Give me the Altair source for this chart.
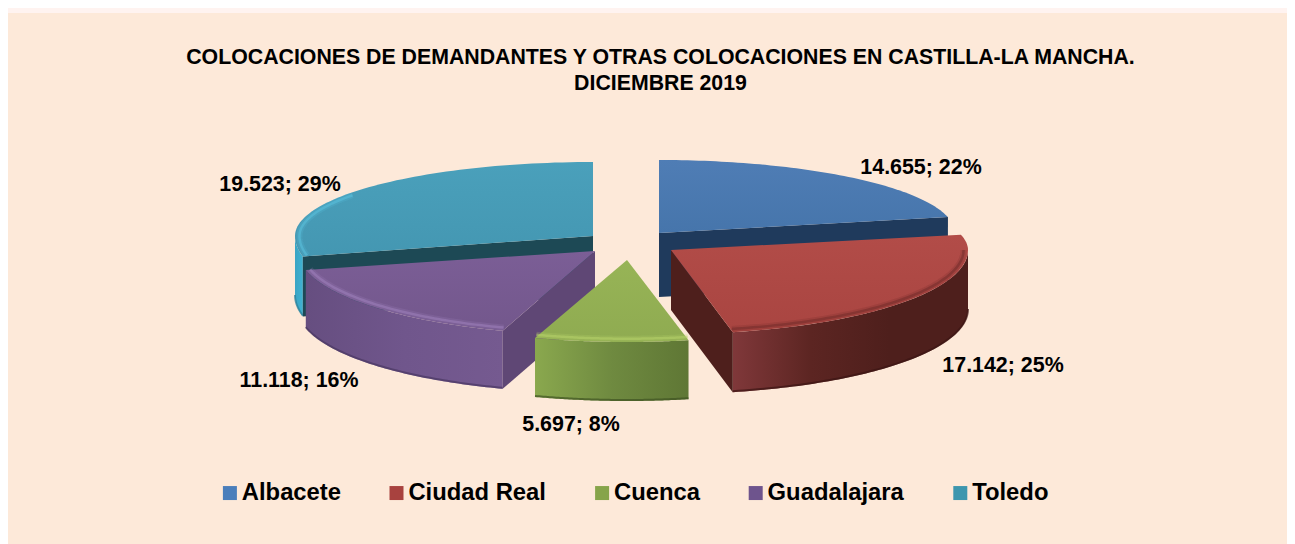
import math
import altair as alt
import pandas as pd

CATEGORIES = ["Albacete", "Ciudad Real", "Cuenca", "Guadalajara", "Toledo"]
VALUES = [14655, 17142, 5697, 11118, 19523]
TITLE_LINES = ["COLOCACIONES DE DEMANDANTES Y OTRAS COLOCACIONES EN CASTILLA-LA MANCHA.",
               "DICIEMBRE 2019"]
LEGEND_COLORS = ["#4a7ebb", "#a8423f", "#86a44a", "#6e548d", "#3d96ae"]

# Geometry of the tilted, exploded pie (page pixels)
CX = [659, 671, 627, 595, 593]
CY = [233, 250, 260, 251, 236]
RX = [296, 297, 296, 297, 298]
R_BACK = [73, 70, 74, 74, 74]
R_FRONT = [80, 84, 82, 84, 90]
DEPTH = [64, 60, 59, 58, 60]
LABEL_X = [921, 1003, 571, 299, 280]
LABEL_Y = [168, 366, 425, 381, 185]
FONT = "Liberation Sans"
X_DOMAIN = [8, 1287]
Y_DOMAIN = [544, 13]


def grad(colors, horizontal=True):
    n = len(colors) - 1
    stops = [alt.GradientStop(offset=i / n, color=c) for i, c in enumerate(colors)]
    if horizontal:
        return alt.LinearGradient(gradient="linear", stops=stops, x1=0, x2=1, y1=0, y2=0)
    return alt.LinearGradient(gradient="linear", stops=stops, x1=0, x2=0, y1=0, y2=1)


TOP_FILL = [["#4f7db5", "#4675ab"], ["#b24c48", "#a94541"], ["#97b456", "#8fab51"],
            ["#7b5e96", "#73578c"], ["#4aa0bb", "#4497b2"]]
RIM_FILL = [["#1f3a5c", "#1f3a5c"], ["#80383a", "#5c2522", "#4e1f1c", "#4e1f1c"],
            ["#8aa84e", "#6f8a40", "#5f7735"], ["#664e80", "#70568c", "#755a90"],
            ["#3aa4c4", "#3fb2d2"]]
WALL_FILL = ["#1f3a5c", "#4e1f1c", None, "#5f4775", "#1d4955"]
BEVEL = ["#5d8bc2", "#6e2a28", "#b9d56c", "#a183bf", "#5cc4e0"]
BEVEL_RANGE = [None, (90, 168), (168, 198.2), (198.2, 257), (257, 305)]
EDGE_DARK = ["#1f3a5c", "#3c1614", "#3f5222", "#4a3762", "#2b7f99"]

total = sum(VALUES)
starts, acc = [], 0
for v in VALUES:
    starts.append(acc / total * 2 * math.pi)
    acc += v


def point(i, a):
    t = -math.cos(a)
    r = R_BACK[i] if t < 0 else R_FRONT[i]
    return CX[i] + RX[i] * math.sin(a), CY[i] + r * t


def arc(i, lo=None, hi=None):
    a0 = starts[i]
    a1 = a0 + VALUES[i] / total * 2 * math.pi
    if lo is not None:
        a0 = max(a0, math.radians(lo))
    if hi is not None:
        a1 = min(a1, math.radians(hi))
    if a1 <= a0:
        return []
    n = 70
    return [point(i, a0 + (a1 - a0) * k / n) for k in range(n + 1)]


def enc(df_chart):
    return df_chart.encode(
        x=alt.X("x:Q", axis=None, scale=alt.Scale(domain=X_DOMAIN, nice=False, zero=False)),
        y=alt.Y("y:Q", axis=None, scale=alt.Scale(domain=Y_DOMAIN, nice=False, zero=False)),
        order=alt.Order("i:Q"),
    )


def frame(points):
    return pd.DataFrame({"x": [p[0] for p in points], "y": [p[1] for p in points],
                         "i": range(len(points))})


def poly(points, **mark):
    return enc(alt.Chart(frame(points)).mark_line(interpolate="linear-closed", **mark))


def stroke(points, **mark):
    return enc(alt.Chart(frame(points)).mark_line(**mark))


def slice_layers(i, wall_index):
    pts = arc(i)
    d = DEPTH[i]
    out = []
    front = arc(i, 90, 270)
    if front:
        rim = front + [(x, y + d) for x, y in reversed(front)]
        out.append(poly(rim, fill=grad(RIM_FILL[i]), stroke="transparent", strokeWidth=0))
        out.append(stroke([(x, y + d - 1) for x, y in front], stroke=EDGE_DARK[i], strokeWidth=2, opacity=0.7))
    c = (CX[i], CY[i])
    if WALL_FILL[i] is not None:
        edge = pts[wall_index]
        wall = [c, edge, (edge[0], edge[1] + d), (c[0], c[1] + d)]
        out.append(poly(wall, fill=WALL_FILL[i], stroke="transparent", strokeWidth=0))
    out.append(poly([c] + pts, fill=grad(TOP_FILL[i], False), stroke="transparent", strokeWidth=0))
    if BEVEL_RANGE[i]:
        b = arc(i, *BEVEL_RANGE[i])
        b = [(c[0] + (x - c[0]) * 0.985, c[1] + (y - c[1]) * 0.96) for x, y in b]
        out.append(stroke(b, stroke=BEVEL[i], strokeWidth=6, opacity=0.2))
        out.append(stroke(b, stroke=BEVEL[i], strokeWidth=2.5, opacity=0.5))
    return out


layers = []
legend_df = pd.DataFrame({"cat": CATEGORIES, "x": [750] * 5, "y": [200] * 5})
layers.append(alt.Chart(legend_df).mark_square(size=1).encode(
    x=alt.X("x:Q", axis=None, scale=alt.Scale(domain=X_DOMAIN, nice=False, zero=False)),
    y=alt.Y("y:Q", axis=None, scale=alt.Scale(domain=Y_DOMAIN, nice=False, zero=False)),
    color=alt.Color("cat:N", sort=CATEGORIES,
                    scale=alt.Scale(domain=CATEGORIES, range=LEGEND_COLORS),
                    legend=alt.Legend(title=None, orient="none", direction="horizontal",
                                      columns=5, legendX=210, legendY=468,
                                      symbolType="square", symbolSize=196, symbolStrokeWidth=0,
                                      labelFont=FONT, labelFontSize=23.8, labelFontWeight="bold",
                                      labelColor="#000000", labelOffset=0, columnPadding=43.6,
                                      labelLimit=300, symbolOpacity=1)),
))
# back to front; -1 = wall at end of slice, 0 = wall at start of slice
layers += slice_layers(0, -1)
layers += slice_layers(4, 0)
layers += slice_layers(3, 0)
layers += slice_layers(1, -1)
layers += slice_layers(2, 0)

fmt = lambda v: f"{v:,}".replace(",", ".")
labels = pd.DataFrame({
    "x": LABEL_X, "y": LABEL_Y,
    "t": [f"{fmt(v)}; {round(v / total * 100)}%" for v in VALUES],
})
layers.append(alt.Chart(labels).mark_text(font=FONT, fontSize=21.4, fontWeight="bold", color="#000000").encode(
    x=alt.X("x:Q", axis=None), y=alt.Y("y:Q", axis=None), text="t:N"))

chart = alt.layer(*layers).properties(
    width=1279, height=531,
    padding={"left": 0, "top": 5, "right": 0, "bottom": 0},
    autosize=alt.AutoSizeParams(type="none"),
    background="#fff3f0",
    view=alt.ViewBackground(fill="#fde9d9", strokeWidth=0),
    title=alt.TitleParams(text=TITLE_LINES, font=FONT, fontSize=21.3, fontWeight="bold", color="#000000",
                          anchor="middle", lineHeight=26, dx=13, dy=81, offset=0),
)
chart.save("out.html", embed_options={"renderer": "svg", "actions": False})
